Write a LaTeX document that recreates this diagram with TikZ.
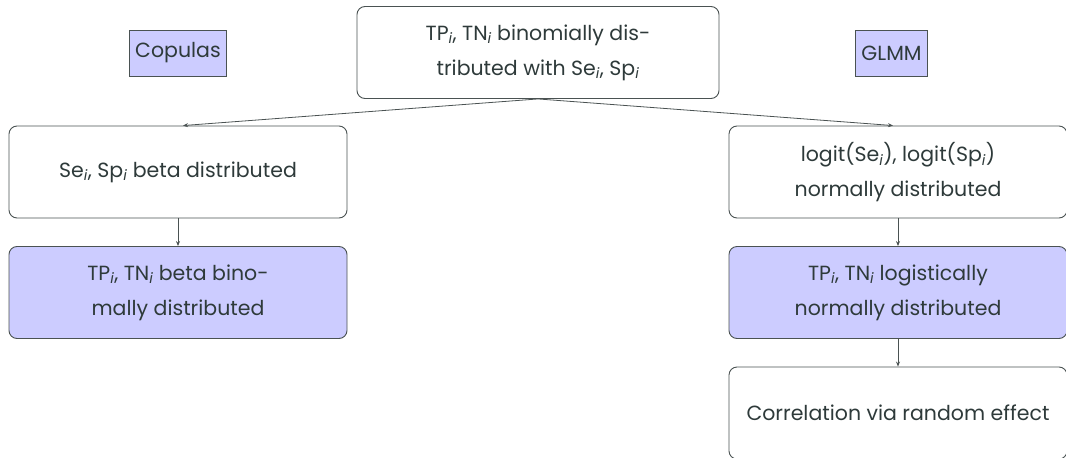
\documentclass[tikz,border=0pt]{standalone}
\usepackage{fontspec}
\setmainfont{Poppins}
\usetikzlibrary{arrows.meta}
\definecolor{txt}{HTML}{2E3A3A}
\definecolor{lav}{HTML}{CCCCFF}
\definecolor{edge}{HTML}{4A5252}
\newcommand{\si}{\textsubscript{\itshape i}}
\begin{document}
\begin{tikzpicture}[x=1pt,y=-1pt,
  box/.style={draw=edge,line width=0.9pt,rounded corners=8pt,minimum width=338pt,minimum height=92pt,align=center,text=txt,font=\fontsize{20.5}{35}\selectfont,inner sep=0pt},
  hl/.style={fill=lav},
  tag/.style={draw=edge,line width=0.9pt,fill=lav,text=txt,font=\fontsize{20.5}{24}\selectfont,minimum height=46pt,inner xsep=6pt},
  conn/.style={draw=edge,line width=0.8pt,-{Stealth[length=5pt,width=4pt]}}]
\useasboundingbox (0,0) rectangle (1066,458);
\begin{scope}
\clip (0,0) rectangle (1066,458);
\node[box,minimum width=362pt] (top) at (538,52.5) {TP\si, TN\si{} binomially dis-\\tributed with Se\si, Sp\si};
\node[tag] (cop) at (178,53) {Copulas};
\node[tag] (glmm) at (891.5,53) {GLMM};
\node[box] (l1) at (178,172) {Se\si, Sp\si{} beta distributed};
\node[box,hl] (l2) at (178,292.5) {TP\si, TN\si{} beta bino-\\mally distributed};
\node[box] (r1) at (898,172) {logit(Se\si), logit(Sp\si)\\normally distributed};
\node[box,hl] (r2) at (898,292.5) {TP\si, TN\si{} logistically\\normally distributed};
\node[box] (r3) at (898,413) {Correlation via random effect};
\draw[conn] (top.south) -- ([xshift=5pt]l1.north);
\draw[conn] (top.south) -- ([xshift=-5pt]r1.north);
\draw[conn] (l1) -- (l2);
\draw[conn] (r1) -- (r2);
\draw[conn] (r2) -- (r3);
\end{scope}
\end{tikzpicture}
\end{document}
